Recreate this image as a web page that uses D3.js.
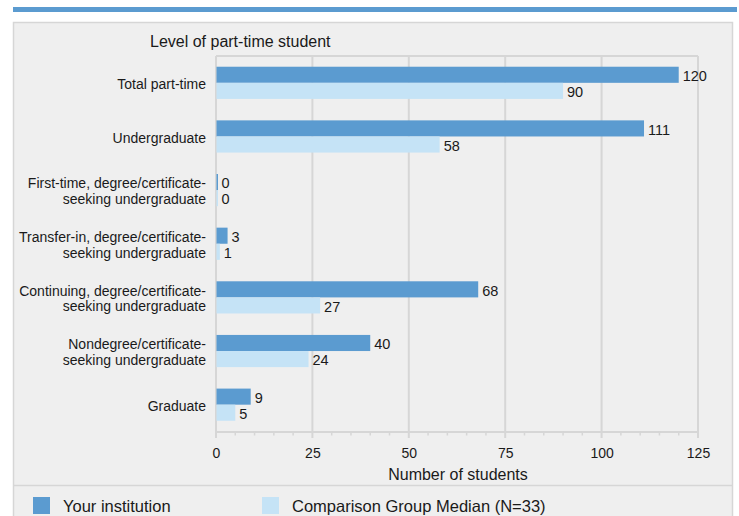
<!DOCTYPE html>
<html><head><meta charset="utf-8">
<script src="https://cdn.jsdelivr.net/npm/d3@7"></script>
<style>
html,body{margin:0;padding:0;background:#fff;}
text{font-family:"Liberation Sans",Arial,sans-serif;fill:#1a1a1a;}
</style></head>
<body><svg id="c" width="739" height="516"></svg>
<script>
const categories = [
  ["Total part-time"],
  ["Undergraduate"],
  ["First-time, degree/certificate-","seeking undergraduate"],
  ["Transfer-in, degree/certificate-","seeking undergraduate"],
  ["Continuing, degree/certificate-","seeking undergraduate"],
  ["Nondegree/certificate-","seeking undergraduate"],
  ["Graduate"]
];
const yourInstitution = [120, 111, 0, 3, 68, 40, 9];
const comparisonMedian = [90, 58, 0, 1, 27, 24, 5];
const seriesNames = ["Your institution", "Comparison Group Median (N=33)"];
const xTicks = [0, 25, 50, 75, 100, 125];
const colors = ["#5b9bd0", "#c5e3f6"];

const svg = d3.select("#c");
const grid = "#d6d6d6";

// top accent bar
svg.append("rect").attr("x",13).attr("y",7).attr("width",724).attr("height",5).attr("fill","#5b9bd0");
// panel
svg.append("rect").attr("x",13.5).attr("y",22.5).attr("width",719).attr("height",510)
  .attr("fill","#efefef").attr("stroke",grid).attr("stroke-width",1.5);
svg.append("line").attr("x1",13).attr("x2",733).attr("y1",485.5).attr("y2",485.5)
  .attr("stroke",grid).attr("stroke-width",1.5);

const x = d3.scaleLinear().domain([0,125]).range([216,698]);
const y = d3.scaleBand().domain(d3.range(categories.length)).range([56,431.5]).paddingInner(0.4).paddingOuter(0.2);
const sub = d3.scaleBand().domain([0,1]).range([0,y.bandwidth()]);

// gridlines
svg.append("g").selectAll("line").data(xTicks).join("line")
  .attr("x1",d=>x(d)).attr("x2",d=>x(d)).attr("y1",56).attr("y2",438)
  .attr("stroke",grid).attr("stroke-width",2);
svg.append("line").attr("x1",x(0)).attr("x2",x(125)).attr("y1",56).attr("y2",56)
  .attr("stroke",grid).attr("stroke-width",2);

// axis
const axis = d3.axisBottom(x).tickValues(xTicks).tickSize(0).tickPadding(0);
const ag = svg.append("g").attr("transform","translate(0,431.5)").call(axis);
ag.select(".domain").attr("stroke",grid).attr("stroke-width",2);
ag.selectAll(".tick line").remove();
ag.selectAll(".tick text").attr("dy",0).attr("y",26).attr("font-size",14)
  .attr("font-family","'Liberation Sans',Arial,sans-serif").attr("fill","#1a1a1a");
const minor = d3.range(0,126,5).filter(v=>v%25!==0);
svg.append("g").selectAll("line").data(minor).join("line")
  .attr("x1",d=>x(d)).attr("x2",d=>x(d)).attr("y1",431).attr("y2",435.5)
  .attr("stroke",grid).attr("stroke-width",1.5);

// bars
const series = [yourInstitution, comparisonMedian];
series.forEach((vals,s)=>{
  const g = svg.append("g");
  g.selectAll("rect").data(vals).join("rect")
    .attr("x",x(0)+0.5)
    .attr("y",(d,i)=>y(i)+sub(s))
    .attr("width",d=>Math.max(1.5,x(d)-x(0)-0.5))
    .attr("height",sub.bandwidth())
    .attr("fill",colors[s]);
  g.selectAll("text").data(vals).join("text")
    .attr("x",d=>Math.max(x(d),x(0)+1.5)+4)
    .attr("y",(d,i)=>y(i)+sub(s)+sub.bandwidth()/2+1)
    .attr("dy","0.36em").attr("font-size",14.5).text(d=>d);
});

// category labels
const cl = svg.append("g").selectAll("text").data(categories).join("text")
  .attr("text-anchor","end").attr("font-size",14)
  .attr("transform",(d,i)=>`translate(206,${y(i)+y.bandwidth()/2+1})`);
cl.each(function(d){
  const t = d3.select(this);
  const n = d.length;
  d.forEach((line,k)=>{
    t.append("tspan").attr("x",0).attr("y",(k-(n-1)/2)*15.5).attr("dy","0.36em").text(line);
  });
});

// axis titles
svg.append("text").attr("x",150).attr("y",41).attr("dy","0.36em").attr("font-size",16).text("Level of part-time student");
svg.append("text").attr("x",458).attr("y",474).attr("dy","0.36em").attr("text-anchor","middle").attr("font-size",16).text("Number of students");

// legend
const lx = [33, 262];
seriesNames.forEach((n,i)=>{
  svg.append("rect").attr("x",lx[i]).attr("y",497).attr("width",17).attr("height",17).attr("fill",colors[i]);
  svg.append("text").attr("x",lx[i]+30).attr("y",506).attr("dy","0.36em").attr("font-size",16.5).text(n);
});
</script></body></html>
